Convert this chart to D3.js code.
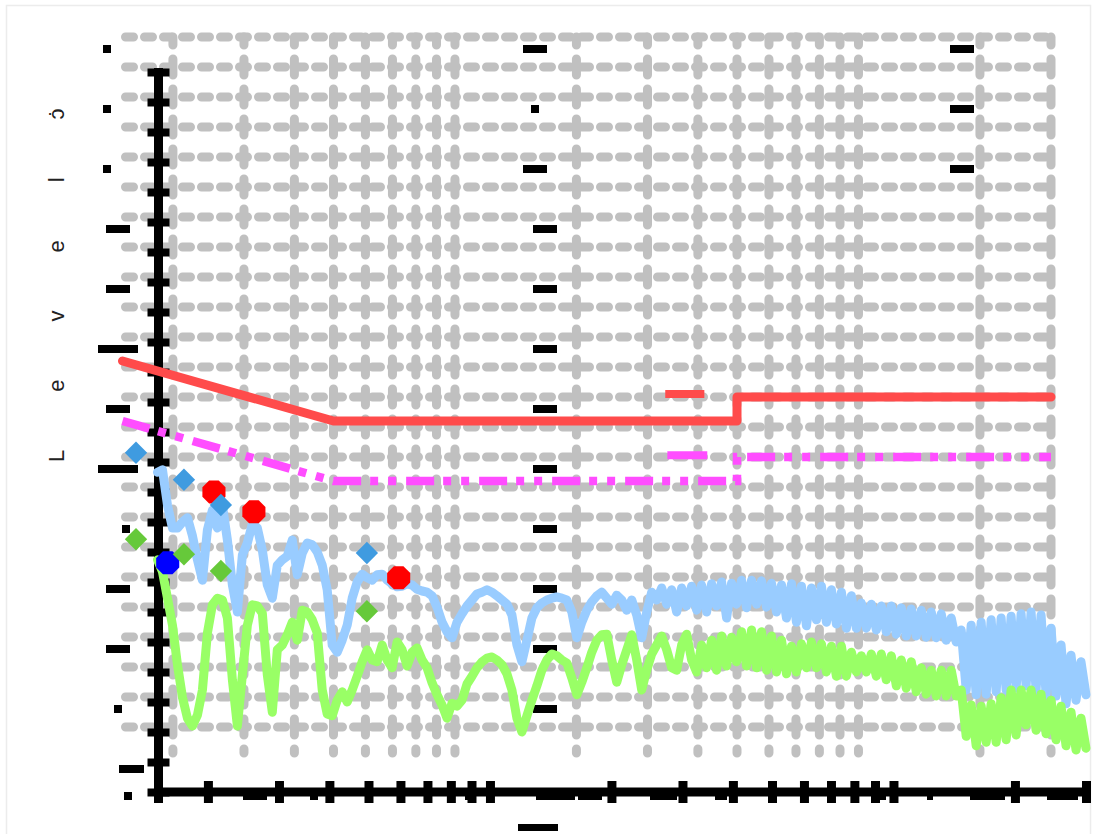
<!DOCTYPE html>
<html>
<head>
<meta charset="utf-8">
<script src="https://cdn.jsdelivr.net/npm/d3@7"></script>
<style>
  html, body { margin: 0; padding: 0; background: #fff; }
  svg { display: block; }
</style>
</head>
<body>
<svg id="chart" width="1096" height="834"></svg>
<script>
// Conducted emission scan, 150 kHz – 30 MHz, levels in dBµV

// Sweep range of the receiver (MHz)
const sweepStartMHz = 0.15;
const sweepStopMHz = 30;

// Peak detector trace, one level per sweep step
const peakTrace = [
  53.3, 53.7, 47.8, 44.0, 44.0, 45.0, 45.7, 42.7, 38.7, 35.3,
  43.7, 47.0, 44.0, 47.8, 42.0, 34.5, 30.0, 39.5, 41.5, 44.7,
  44.0, 40.3, 34.5, 32.3, 37.8, 38.7, 39.3, 42.0, 36.2, 39.8,
  41.5, 41.2, 40.0, 37.8, 33.7, 24.5, 23.3, 25.3, 27.8, 32.3,
  35.0, 36.3, 35.7, 35.3, 36.2, 36.3, 35.3, 34.7, 34.2, 34.3,
  34.7, 34.5, 33.8, 33.5, 33.3, 32.7, 30.8, 28.3, 26.7, 25.7,
  28.3, 29.7, 31.0, 32.0, 33.0, 33.3, 33.7, 33.3, 32.7, 32.0,
  31.3, 29.5, 24.5, 21.7, 25.3, 29.0, 30.7, 31.5, 32.0, 32.3,
  32.5, 32.3, 32.0, 30.0, 25.7, 28.3, 30.3, 31.7, 32.7, 33.3,
  32.3, 31.3, 32.8, 32.0, 30.3, 32.0, 29.5, 25.7, 30.0, 33.3,
  32.0, 34.0, 31.3, 33.7, 30.0, 34.0, 31.0, 34.3, 30.3, 34.5,
  30.0, 34.7, 31.0, 35.0, 29.0, 34.8, 31.3, 35.3, 30.7, 35.3,
  31.3, 35.2, 30.8, 34.8, 30.0, 34.5, 29.0, 34.7, 28.3, 34.3,
  27.7, 34.0, 28.7, 34.3, 28.3, 33.7, 28.0, 33.3, 27.3, 32.7,
  27.3, 31.5, 27.3, 31.3, 27.0, 31.0, 26.7, 31.0, 26.3, 30.7,
  26.0, 30.5, 26.0, 30.3, 25.8, 30.0, 25.7, 29.7, 25.3, 29.0,
  25.0, 27.0, 17.0, 27.8, 16.2, 28.3, 16.3, 28.7, 16.7, 29.0,
  17.0, 29.3, 17.3, 29.7, 17.7, 30.0, 17.0, 29.5, 16.3, 27.3,
  16.0, 24.5, 14.7, 22.8, 15.3, 21.7, 16.2
];

// Average detector trace, one level per sweep step
const averageTrace = [
  38.7, 36.7, 32.3, 27.8, 21.2, 15.8, 12.3, 11.0, 12.8, 17.0,
  26.5, 31.2, 32.3, 32.0, 29.0, 18.7, 11.0, 19.5, 27.8, 31.2,
  31.0, 29.8, 19.5, 13.3, 23.7, 24.5, 26.2, 28.3, 25.3, 30.3,
  30.0, 28.7, 26.5, 17.0, 13.0, 12.7, 15.3, 16.7, 15.0, 17.0,
  19.3, 21.7, 23.7, 22.0, 21.7, 24.5, 22.0, 20.7, 25.0, 23.7,
  21.0, 23.3, 24.0, 22.0, 20.7, 18.2, 16.2, 14.5, 12.3, 14.8,
  14.3, 15.3, 18.0, 19.3, 20.7, 21.7, 22.3, 22.5, 22.0, 21.2,
  19.7, 17.0, 12.3, 10.0, 12.7, 15.3, 17.7, 20.3, 22.0, 23.0,
  22.7, 22.0, 21.5, 19.0, 16.2, 18.3, 20.7, 23.3, 25.3, 26.2,
  26.3, 22.0, 18.3, 21.2, 23.7, 26.2, 22.0, 17.0, 20.3, 23.0,
  24.5, 26.0, 23.7, 20.7, 20.3, 24.5, 26.3, 22.0, 20.0, 24.5,
  20.7, 25.3, 20.3, 26.0, 21.0, 25.8, 21.7, 26.7, 21.0, 27.0,
  20.7, 26.7, 20.3, 26.0, 20.0, 25.3, 19.7, 24.3, 20.0, 24.7,
  20.7, 25.0, 20.7, 24.7, 20.0, 24.3, 19.3, 24.3, 19.3, 23.3,
  20.0, 22.7, 20.0, 23.0, 19.3, 23.0, 18.7, 22.7, 17.7, 22.0,
  17.3, 21.7, 16.7, 20.7, 16.3, 20.3, 16.0, 20.3, 16.0, 20.3,
  16.0, 17.0, 9.3, 14.5, 7.7, 14.3, 8.3, 14.7, 8.3, 15.7,
  8.7, 17.0, 9.5, 17.0, 11.2, 17.0, 10.3, 16.3, 9.7, 15.3,
  8.7, 14.3, 7.7, 13.3, 7.0, 12.3, 7.3
];

// Class B limit lines
const qpLimitMHz = [0.15, 0.5, 5, 5, 30];
const qpLimitDb  = [66, 56, 56, 60, 60];
const avLimitMHz = [0.15, 0.5, 5, 5, 30];
const avLimitDb  = [56, 46, 46, 50, 50];

// Final measurements
const finalMHz   = [0.162, 0.213, 0.263, 0.605];
const finalQpDb  = [50.7, 46.2, 42.0, 34.0];
const finalAvDb  = [36.3, 33.8, 31.0, 24.3];
const peakMarkMHz = [0.207, 0.260, 0.594];
const peakMarkDb  = [50.0, 46.7, 35.7];
const startMarkMHz = [0.159];
const startMarkDb  = [38.2];

// Limit line tags
const qpTagMHz = [3.32, 4.15], qpTagDb = 60.5;
const avTagMHz = [3.36, 4.22], avTagDb = 50.3;

// Level axis
const levelTicks  = [0,5,10,15,20,25,30,35,40,45,50,55,60,65,70,75,80,85,90,95,100,105,110,115,120];
const gridLevels  = [5,10,15,20,25,30,35,40,45,50,55,60,65,70,75,80,85,90,95,100,105,110,115,120];
const labelLevels = [120,110,100,90,80,70,60,50,40,30,20,10,0];

// ---- layout / style ----
const LABEL_BOX = [[103,111],[103,111],[103,111],[106,130],[106,130],[98,138],[106,130],
                   [98,138],[122,130],[106,130],[106,130],[114,122],[119,144]];
const MID_BOX = [[523,547],[531,539],[523,547],[533,557],[533,557],[533,557],[533,557],
                 [533,557],[533,557],[533,557],[533,557],[533,557]];
const RIGHT_BOX = [[950,974],[950,974],[950,974]];
const XLABEL_BOX = [[243,267],[310,318],[465,473],[536,575],[578,602],[650,677],[715,727],
                    [878,886],[927,933],[970,1005],[1047,1078],[124,132]];

const svg = d3.select('#chart');

svg.append('rect').attr('x', 0).attr('y', 0).attr('width', 1096).attr('height', 834).attr('fill', '#fff');
svg.append('rect').attr('x', 6.5).attr('y', 5.5).attr('width', 1084).attr('height', 840)
  .attr('fill', 'none').attr('stroke', '#ececec').attr('stroke-width', 1.5);

const x = d3.scaleLog().domain([sweepStartMHz, sweepStopMHz]).range([157.5, 1086]);
const y = d3.scaleLinear().domain([0, 120]).range([792, 72]);

const sweep = n => d3.range(n).map(i => sweepStartMHz * Math.pow(sweepStopMHz / sweepStartMHz, i / (n - 1)));

// Grid and limit layer sits offset up-left of the axis frame
const layerOffset = -35;
const gridLayer = svg.append('g').attr('transform', `translate(${layerOffset},${layerOffset})`);

gridLayer.append('g').selectAll('line').data(gridLevels).join('line')
  .attr('x1', x(sweepStartMHz) + 3).attr('x2', x(sweepStopMHz))
  .attr('y1', d => y(d)).attr('y2', d => y(d))
  .attr('stroke', '#c0c0c0').attr('stroke-width', 9)
  .attr('stroke-linecap', 'round').attr('stroke-dasharray', '8,11');

gridLayer.append('g').selectAll('line').data(x.ticks()).join('line')
  .attr('x1', d => x(d)).attr('x2', d => x(d))
  .attr('y1', y(120)).attr('y2', y(0) - 4)
  .attr('stroke', '#c0c0c0').attr('stroke-width', 9)
  .attr('stroke-linecap', 'round').attr('stroke-dasharray', '16,14')
  .attr('stroke-dashoffset', 8);

// Axes
const yAxisG = svg.append('g').attr('transform', `translate(${x(sweepStartMHz) + 1},0)`)
  .call(d3.axisLeft(y).tickValues(levelTicks).tickSizeInner(11).tickSizeOuter(0).tickFormat(''));
yAxisG.select('.domain').remove();
yAxisG.selectAll('.tick line').attr('x1', 11).attr('stroke', '#000').attr('stroke-width', 8);
yAxisG.append('line').attr('x1', 0).attr('x2', 0).attr('y1', y(120) - 4).attr('y2', y(0) + 11)
  .attr('stroke', '#000').attr('stroke-width', 9);

const xAxisG = svg.append('g').attr('transform', `translate(0,${y(0)})`)
  .call(d3.axisBottom(x).tickValues(x.ticks()).tickSizeInner(11).tickSizeOuter(0).tickFormat(''));
xAxisG.select('.domain').remove();
xAxisG.selectAll('.tick line').attr('y1', -11).attr('stroke', '#000').attr('stroke-width', 9);
xAxisG.append('line').attr('x1', x(sweepStartMHz) - 3).attr('x2', x(sweepStopMHz) + 3)
  .attr('y1', 0).attr('y2', 0).attr('stroke', '#000').attr('stroke-width', 9);

// Tick label glyph blocks
const blocks = svg.append('g').attr('fill', '#000');
blocks.selectAll('rect.yl').data(labelLevels).join('rect').attr('class', 'yl')
  .attr('x', (d, i) => LABEL_BOX[i][0]).attr('width', (d, i) => LABEL_BOX[i][1] - LABEL_BOX[i][0])
  .attr('y', d => y(d) - 27).attr('height', 8);
blocks.selectAll('rect.ml').data(labelLevels.slice(0, MID_BOX.length)).join('rect').attr('class', 'ml')
  .attr('x', (d, i) => MID_BOX[i][0]).attr('width', (d, i) => MID_BOX[i][1] - MID_BOX[i][0])
  .attr('y', d => y(d) - 27).attr('height', 8);
blocks.selectAll('rect.rl').data(labelLevels.slice(0, RIGHT_BOX.length)).join('rect').attr('class', 'rl')
  .attr('x', (d, i) => RIGHT_BOX[i][0]).attr('width', (d, i) => RIGHT_BOX[i][1] - RIGHT_BOX[i][0])
  .attr('y', d => y(d) - 27).attr('height', 8);
blocks.selectAll('rect.xl').data(XLABEL_BOX).join('rect').attr('class', 'xl')
  .attr('x', d => d[0]).attr('width', d => d[1] - d[0])
  .attr('y', y(0)).attr('height', 8);
blocks.append('rect').attr('x', 518).attr('width', 40).attr('y', 824).attr('height', 7);

// Axis title
svg.append('text')
  .attr('transform', `translate(64,${y(56) + 6}) rotate(-90)`)
  .attr('font-family', 'Liberation Sans, Arial, sans-serif')
  .attr('font-size', 22).attr('fill', '#222')
  .attr('letter-spacing', 58)
  .text('Levelɔ̇');

// Limit lines
const limitLine = (fs, ls) => d3.line().x((d, i) => x(fs[i])).y((d, i) => y(ls[i]))(ls);
const limitLayer = svg.append('g').attr('transform', `translate(${layerOffset},${layerOffset})`);
limitLayer.append('path').attr('d', limitLine(qpLimitMHz, qpLimitDb))
  .attr('fill', 'none').attr('stroke', '#ff4b4b').attr('stroke-width', 9)
  .attr('stroke-linejoin', 'round').attr('stroke-linecap', 'round');
limitLayer.append('path').attr('d', limitLine(avLimitMHz, avLimitDb))
  .attr('fill', 'none').attr('stroke', '#ff4dff').attr('stroke-width', 8.5)
  .attr('stroke-dasharray', '28,9,8,10,8,10');
limitLayer.append('line').attr('x1', x(qpTagMHz[0])).attr('x2', x(qpTagMHz[1]))
  .attr('y1', y(qpTagDb)).attr('y2', y(qpTagDb)).attr('stroke', '#ff4b4b').attr('stroke-width', 8);
limitLayer.append('line').attr('x1', x(avTagMHz[0])).attr('x2', x(avTagMHz[1]))
  .attr('y1', y(avTagDb)).attr('y2', y(avTagDb)).attr('stroke', '#ff4dff').attr('stroke-width', 8);

// Measured traces
const traceLine = d3.line().x(d => x(d[0])).y(d => y(d[1]));
const pairs = arr => { const f = sweep(arr.length); return arr.map((v, i) => [f[i], v]); };
svg.append('path').attr('d', traceLine(pairs(peakTrace)))
  .attr('fill', 'none').attr('stroke', '#99ccff').attr('stroke-width', 9)
  .attr('stroke-linejoin', 'round').attr('stroke-linecap', 'round');
svg.append('path').attr('d', traceLine(pairs(averageTrace)))
  .attr('fill', 'none').attr('stroke', '#99ff66').attr('stroke-width', 9)
  .attr('stroke-linejoin', 'round').attr('stroke-linecap', 'round');

// Octagon markers on the peak scan
const octagon = (cx, cy, r) => d3.range(8).map(k => {
  const a = Math.PI / 8 + k * Math.PI / 4;
  return [cx + r * Math.cos(a), cy + r * Math.sin(a)];
});
const octPath = p => 'M' + p.map(q => q.join(',')).join('L') + 'Z';
svg.append('g').selectAll('path').data(peakMarkMHz).join('path')
  .attr('d', (d, i) => octPath(octagon(x(d), y(peakMarkDb[i]), 12.5)))
  .attr('fill', '#ff0000');
svg.append('g').selectAll('path').data(startMarkMHz).join('path')
  .attr('d', (d, i) => octPath(octagon(x(d), y(startMarkDb[i]), 12.5)))
  .attr('fill', '#0000ff');

// Final quasi-peak / average readings
const diamond = d3.symbol().type(d3.symbolSquare).size(250);
const finals = svg.append('g').attr('transform', `translate(${layerOffset},${layerOffset})`);
finals.selectAll('path.av').data(finalMHz).join('path').attr('class', 'av')
  .attr('d', diamond)
  .attr('transform', (d, i) => `translate(${x(d)},${y(finalAvDb[i])}) rotate(45)`)
  .attr('fill', '#66c93a');
finals.selectAll('path.qp').data(finalMHz).join('path').attr('class', 'qp')
  .attr('d', diamond)
  .attr('transform', (d, i) => `translate(${x(d)},${y(finalQpDb[i])}) rotate(45)`)
  .attr('fill', '#3f9be0');
</script>
</body>
</html>
